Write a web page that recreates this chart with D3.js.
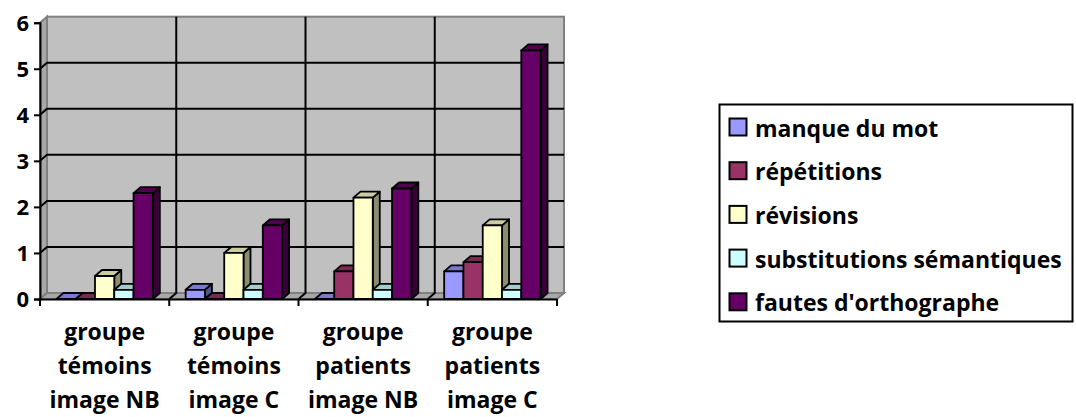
<!DOCTYPE html>
<html>
<head>
<meta charset="utf-8">
<script src="https://cdn.jsdelivr.net/npm/d3@7"></script>
<style>
  body { margin: 0; background: #fff; }
  text { font-family: "Open Sans", Lato, sans-serif; font-weight: bold; fill: #000; font-variant-ligatures: none; }
</style>
</head>
<body>
<div id="chart"></div>
<script>
// data
var categories = ["témoins NB", "témoins C", "patients NB", "patients C"];
var tickLabels = [
  ["groupe", "témoins", "image NB"],
  ["groupe", "témoins", "image C"],
  ["groupe", "patients", "image NB"],
  ["groupe", "patients", "image C"]
];
var seriesNames = ["manque du mot", "répétitions", "révisions", "substitutions sémantiques", "fautes d'orthographe"];
var seriesColors = ["#9999FF", "#993366", "#FFFFCC", "#CCFFFF", "#660066"];
var manqueDuMot = [0, 0.2, 0, 0.6];
var repetitions = [0, 0, 0.6, 0.8];
var revisions = [0.5, 1, 2.2, 1.6];
var substitutions = [0.2, 0.2, 0.2, 0.2];
var fautes = [2.3, 1.6, 2.4, 5.4];
var yTicks = [0, 1, 2, 3, 4, 5, 6];

var seriesValues = [manqueDuMot, repetitions, revisions, substitutions, fautes];

var width = 1076, height = 417;
var dx = 7, dy = -6;   // depth of the 3d box

var svg = d3.select("#chart").append("svg")
    .attr("width", width).attr("height", height);

var x = d3.scaleBand().domain(categories).range([40, 557]);
var y = d3.scaleLinear().domain([0, 6]).range([299, 22.7]);
var gap = x.bandwidth() * 0.127;
var xs = d3.scaleBand().domain(seriesNames).range([gap, x.bandwidth() - gap]);

var x0 = x.range()[0], x1 = x.range()[1];
var yb = y(0), yt = y(6);

function shade(c, k) {
  var col = d3.rgb(c);
  return d3.rgb(col.r * k, col.g * k, col.b * k).toString();
}
function poly(pts) { return "M" + pts.map(function(p) { return p.join(","); }).join("L") + "Z"; }

// walls and floor
svg.append("path")
    .attr("d", poly([[x0, yb], [x0, yt], [x0 + dx, yt + dy], [x0 + dx, yb + dy]]))
    .attr("fill", "#a8a8a8").attr("stroke", "#808080").attr("stroke-width", 2);
svg.append("path")
    .attr("d", poly([[x0, yb], [x1, yb], [x1 + dx, yb + dy], [x0 + dx, yb + dy]]))
    .attr("fill", "#a8a8a8").attr("stroke", "#808080").attr("stroke-width", 2);
svg.append("rect")
    .attr("x", x0 + dx).attr("y", yt + dy)
    .attr("width", x1 - x0).attr("height", yb - yt)
    .attr("fill", "#c0c0c0").attr("stroke", "#808080").attr("stroke-width", 2);

// gridlines
var grid = svg.append("g").attr("stroke", "#000").attr("stroke-width", 2).attr("fill", "none");
yTicks.slice(1, -1).forEach(function(v) {
  grid.append("path")
      .attr("d", "M" + x0 + "," + y(v) + "L" + (x0 + dx) + "," + (y(v) + dy) + "H" + (x1 + dx));
});
categories.slice(1).forEach(function(c) {
  var xb = x(c);
  grid.append("path")
      .attr("d", "M" + xb + "," + yb + "L" + (xb + dx) + "," + (yb + dy) + "V" + (yt + dy));
});

// bars
var bars = svg.append("g").attr("stroke", "#000").attr("stroke-width", 1.8).attr("stroke-linejoin", "round");
categories.forEach(function(c, ci) {
  seriesNames.forEach(function(s, si) {
    var v = seriesValues[si][ci];
    var bx = x(c) + xs(s), bw = xs.bandwidth(), top = y(v);
    var col = seriesColors[si];
    var g = bars.append("g");
    g.append("path")
        .attr("d", poly([[bx + bw, top], [bx + bw + dx, top + dy], [bx + bw + dx, yb + dy], [bx + bw, yb]]))
        .attr("fill", shade(col, 0.55));
    g.append("path")
        .attr("d", poly([[bx, top], [bx + dx, top + dy], [bx + bw + dx, top + dy], [bx + bw, top]]))
        .attr("fill", shade(col, 0.8));
    g.append("rect")
        .attr("x", bx).attr("y", top).attr("width", bw).attr("height", yb - top)
        .attr("fill", col);
  });
});

// front axes
var yAxis = svg.append("g")
    .attr("transform", "translate(" + x0 + ",0)")
    .call(d3.axisLeft(y).tickValues(yTicks).tickSize(6).tickPadding(5).tickFormat(d3.format("d")));
yAxis.selectAll("line, path").attr("stroke", "#000").attr("stroke-width", 2);
yAxis.selectAll("text").style("font-size", "22px").attr("dy", "0.36em");

var xAxis = svg.append("g")
    .attr("transform", "translate(0," + yb + ")")
    .call(d3.axisBottom(x).tickSize(0).tickFormat(""));
xAxis.selectAll("path").attr("stroke", "#000").attr("stroke-width", 2);
xAxis.selectAll(".tick").remove();
xAxis.selectAll(".bnd").data(categories.concat(["end"])).enter().append("line")
    .attr("x1", function(d, i) { return i < categories.length ? x(d) : x1; })
    .attr("x2", function(d, i) { return i < categories.length ? x(d) : x1; })
    .attr("y1", 0).attr("y2", 7)
    .attr("stroke", "#000").attr("stroke-width", 2);

var labels = svg.append("g");
categories.forEach(function(c, ci) {
  var t = labels.append("text")
      .attr("x", x(c) + x.bandwidth() / 2).attr("y", 340)
      .attr("text-anchor", "middle").style("font-size", "23px");
  tickLabels[ci].forEach(function(line, li) {
    t.append("tspan").attr("x", x(c) + x.bandwidth() / 2).attr("y", 340 + li * 34).text(line);
  });
});

// legend
var legend = svg.append("g");
legend.append("rect")
    .attr("x", 719.5).attr("y", 104.5).attr("width", 353).attr("height", 217)
    .attr("fill", "#fff").attr("stroke", "#000").attr("stroke-width", 2);
seriesNames.forEach(function(s, i) {
  var ly = 118.5 + i * 43.7;
  legend.append("rect")
      .attr("x", 729.5).attr("y", ly).attr("width", 17).attr("height", 17)
      .attr("fill", seriesColors[i]).attr("stroke", "#000").attr("stroke-width", 2);
  legend.append("text")
      .attr("x", 755).attr("y", ly + 18)
      .style("font-size", "23px").text(s);
});
</script>
</body>
</html>
